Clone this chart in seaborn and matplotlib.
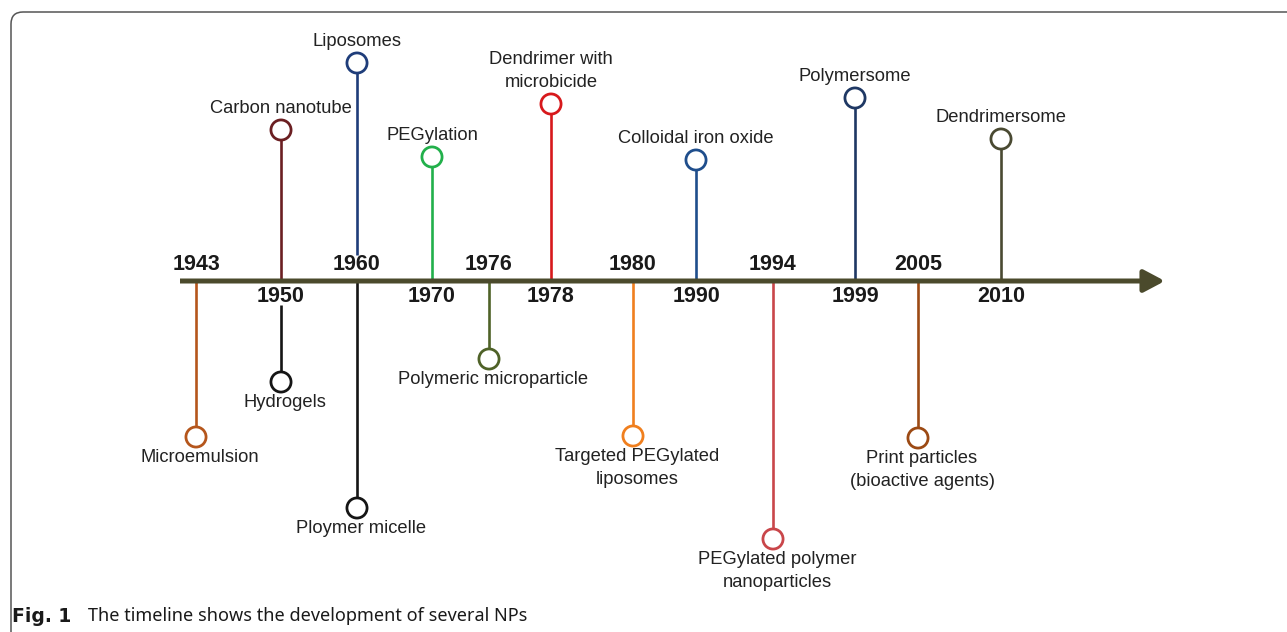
import matplotlib
matplotlib.use('Agg')
import matplotlib.pyplot as plt
import seaborn as sns
import pandas as pd
from matplotlib.patches import FancyBboxPatch

# timeline data
years = [1943, 1950, 1960, 1970, 1976, 1978, 1980, 1990, 1994, 1999, 2005, 2010]
slots = [196, 281, 357, 432, 489, 551, 633, 696, 773, 855, 918, 1001]
year_above = [True, False, True, False, True, False, True, False, True, False, True, False]

event_year = [1943, 1950, 1950, 1960, 1960, 1970, 1976, 1978, 1980, 1990, 1994, 1999, 2005, 2010]
event_label = ['Microemulsion', 'Carbon nanotube', 'Hydrogels', 'Liposomes', 'Ploymer micelle',
               'PEGylation', 'Polymeric microparticle', 'Dendrimer with\nmicrobicide',
               'Targeted PEGylated\nliposomes', 'Colloidal iron oxide',
               'PEGylated polymer\nnanoparticles', 'Polymersome',
               'Print particles\n(bioactive agents)', 'Dendrimersome']
event_height = [-156, 151, -101, 218, -227, 124, -78, 177, -155, 121, -258, 183, -157, 142]
event_color = ['#b5561c', '#6b1f22', '#151515', '#1f3d7a', '#151515', '#22b04b', '#4f6228',
               '#d7191c', '#f07f1e', '#1f4e8c', '#c9464a', '#1f3864', '#9c4a14', '#4a4a32']

sns.set_theme(style='white')
plt.rcParams['font.family'] = ['Liberation Sans', 'DejaVu Sans']

W, H = 1287, 632
AXIS_Y = 281
fig = plt.figure(figsize=(W / 100, H / 100), dpi=100)
ax = fig.add_axes([0, 0, 1, 1])
ax.set_xlim(0, W)
ax.set_ylim(AXIS_Y - H, AXIS_Y)
ax.axis('off')

slot_of = dict(zip(years, slots))
above_of = dict(zip(years, year_above))
df = pd.DataFrame({'year': event_year, 'label': event_label,
                   'height': event_height, 'color': event_color})
df['x'] = df['year'].map(slot_of)

# frame of the figure panel
frame = FancyBboxPatch((11, -400), 1400, 400 + AXIS_Y - 12,
                       boxstyle='round,pad=0,rounding_size=12',
                       fc='none', ec='#555555', lw=1.1, zorder=0)
ax.add_patch(frame)

# main arrow
ax.annotate('', xy=(1165, 0), xytext=(180, 0),
            arrowprops=dict(arrowstyle='-|>,head_length=0.85,head_width=0.45',
                            mutation_scale=15, lw=3.6, color='#4b4a2c',
                            shrinkA=0, shrinkB=0, capstyle='butt'), zorder=2)

# stems
for _, r in df.iterrows():
    up = r['height'] > 0
    start = 0
    if up == above_of[r['year']]:
        start = 26 if up else -24
    ax.plot([r['x'], r['x']], [start, r['height']], color=r['color'], lw=1.9, zorder=1,
            solid_capstyle='butt')

# circles
pal = dict(zip(df['label'], df['color']))
sns.scatterplot(data=df, x='x', y='height', hue='label', palette=pal, s=210,
                legend=False, ax=ax, zorder=3, linewidth=2.0)
coll = ax.collections[-1]
coll.set_edgecolor(df['color'].tolist())
coll.set_facecolor('white')

# event labels
for _, r in df.iterrows():
    if r['height'] > 0:
        ax.text(r['x'], r['height'] + 13, r['label'], ha='center', va='bottom',
                fontsize=13.2, color='#222222', linespacing=1.45)
    else:
        ax.text(r['x'] + 4, r['height'] - 12, r['label'], ha='center', va='top',
                fontsize=13.2, color='#222222', linespacing=1.45)

# year labels
for y, x, ab in zip(years, slots, year_above):
    ax.text(x, 16 if ab else -16, str(y), ha='center', va='center',
            fontsize=15.5, fontweight='bold', color='#1a1a1a')

# caption
fig.text(12 / W, 1 - 616 / H, 'Fig. 1', fontsize=13.5, fontweight='bold',
         family='DejaVu Sans', va='center', color='#1a1a1a')
fig.text(88 / W, 1 - 616 / H, 'The timeline shows the development of several NPs',
         fontsize=13.0, family='Noto Sans', va='center', color='#1a1a1a')

fig.savefig('out.png', dpi=100)
